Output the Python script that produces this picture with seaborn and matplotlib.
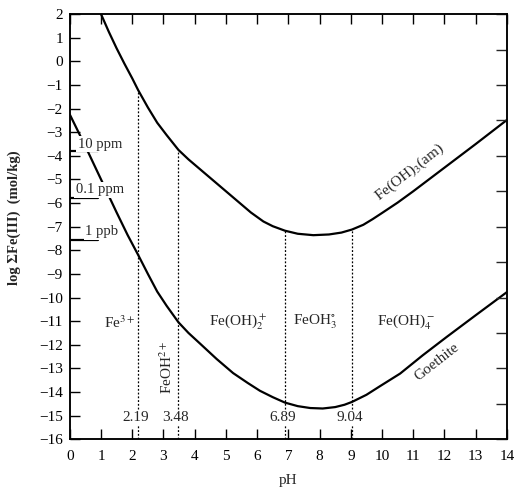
import pandas as pd
import matplotlib
matplotlib.use("Agg")
import matplotlib.pyplot as plt
import seaborn as sns

# values
ph_am = [1.0, 1.25, 1.5, 1.75, 2.0, 2.19, 2.5, 2.8, 3.1, 3.48, 3.8, 4.2, 4.6, 5.0, 5.4,
         5.8, 6.2, 6.5, 6.89, 7.3, 7.8, 8.3, 8.7, 9.04, 9.4, 9.7, 10.0, 10.5, 11.0,
         12.0, 13.0, 14.0]
log_am = [2.0, 1.25, 0.55, -0.1, -0.72, -1.22, -1.95, -2.6, -3.12, -3.75, -4.15, -4.6,
          -5.05, -5.5, -5.95, -6.4, -6.78, -6.98, -7.17, -7.3, -7.36, -7.33, -7.25,
          -7.12, -6.92, -6.68, -6.42, -5.98, -5.5, -4.5, -3.5, -2.48]

ph_goe = [0.0, 0.5, 1.0, 1.5, 1.85, 2.19, 2.5, 2.8, 3.1, 3.48, 3.8, 4.17, 4.7, 5.23,
          5.7, 6.09, 6.5, 6.89, 7.3, 7.7, 8.1, 8.5, 8.8, 9.04, 9.5, 9.94, 10.58, 11.3,
          12.07, 13.0, 14.0]
log_goe = [-2.25, -3.6, -5.0, -6.4, -7.35, -8.2, -9.0, -9.75, -10.35, -11.05, -11.5,
           -11.95, -12.6, -13.2, -13.62, -13.95, -14.22, -14.45, -14.6, -14.68, -14.7,
           -14.64, -14.54, -14.42, -14.12, -13.75, -13.22, -12.45, -11.67, -10.75, -9.77]

boundary_ph = [2.19, 3.48, 6.89, 9.04]
boundary_top = [-1.22, -3.75, -7.17, -7.12]
boundary_text = ["2.19", "3.48", "6.89", "9.04"]

limit_names = ["10 ppm", "0.1 ppm", "1 ppb"]
limit_logs = [-3.8, -5.78, -7.58]

species_names = [r"Fe$^{3+}$", r"Fe(OH)$_2^+$", r"FeOH$_3^{\circ}$", r"Fe(OH)$_4^-$"]
species_ph = [1.6, 5.4, 7.85, 10.75]

am = pd.DataFrame({"pH": ph_am, "logFe": log_am})
goe = pd.DataFrame({"pH": ph_goe, "logFe": log_goe})

sns.set_theme(style="ticks")
plt.rcParams["font.family"] = ["Liberation Serif", "DejaVu Serif"]
plt.rcParams["mathtext.fontset"] = "stix"
plt.rcParams["lines.solid_joinstyle"] = "round"
fs = 11

fig = plt.figure(figsize=(5.21, 4.88), dpi=100)
ax = fig.add_axes([0.134, 0.1, 0.839, 0.871])

sns.lineplot(data=am, x="pH", y="logFe", color="black", lw=1.6, ax=ax, zorder=3)
sns.lineplot(data=goe, x="pH", y="logFe", color="black", lw=1.6, ax=ax, zorder=3)

for p, top, t in zip(boundary_ph, boundary_top, boundary_text):
    ax.plot([p, p], [-16, top], color="black", lw=0.9, ls=(0, (1.5, 1.5)), zorder=2)
    ax.text(p - 0.08, -15.1, t, ha="center", va="center", fontsize=fs, zorder=5,
            bbox=dict(facecolor="white", edgecolor="none", pad=0.5))

for name, v in zip(limit_names, limit_logs):
    ax.plot([0, 0.9], [v, v], color="black", lw=1.6, zorder=4)
for name, x, y in zip(limit_names, [0.25, 0.2, 0.5], [-3.65, -5.58, -7.36]):
    ax.text(x, y, name, ha="left", va="baseline", fontsize=fs - 0.5, zorder=5,
            bbox=dict(facecolor="white", edgecolor="none", pad=1.2))

for name, x in zip(species_names, species_ph):
    ax.text(x, -11.05, name, ha="center", va="center", fontsize=fs)
ax.text(3.1, -12.95, r"FeOH$^{2+}$", rotation=90, ha="center", va="center", fontsize=fs)

ax.text(10.9, -4.7, r"Fe(OH)$_3$(am)", rotation=38, ha="center", va="center",
        fontsize=fs, rotation_mode="anchor")
ax.text(11.75, -12.75, "Goethite", rotation=38, ha="center", va="center",
        fontsize=fs, rotation_mode="anchor")

ax.set_xlim(0, 14)
ax.set_ylim(-16, 2)
ax.set_xticks(range(0, 15))
ax.set_yticks(range(-16, 3))
ax.tick_params(direction="in", length=7, width=1, top=True, labelsize=fs, colors="black")
ax.tick_params(axis="x", pad=8)
ax.tick_params(axis="y", right=False, pad=5)

# right-hand ticks every 1.5 log units
ax2 = ax.twinx()
ax2.set_ylim(-16, 2)
ax2.set_yticks([2 - 1.5 * k for k in range(13)])
ax2.tick_params(direction="in", length=8, width=1, labelright=False)

for a in (ax, ax2):
    for s in a.spines.values():
        s.set_color("black")
        s.set_linewidth(1.1)

ax.set_xlabel("pH", fontsize=fs, labelpad=8)
ax.set_ylabel("log ΣFe(III)  (mol/kg)", fontsize=fs - 0.5, fontweight="bold")
ax.yaxis.set_label_coords(-0.112, 0.52)

plt.savefig("out.png", dpi=100)
